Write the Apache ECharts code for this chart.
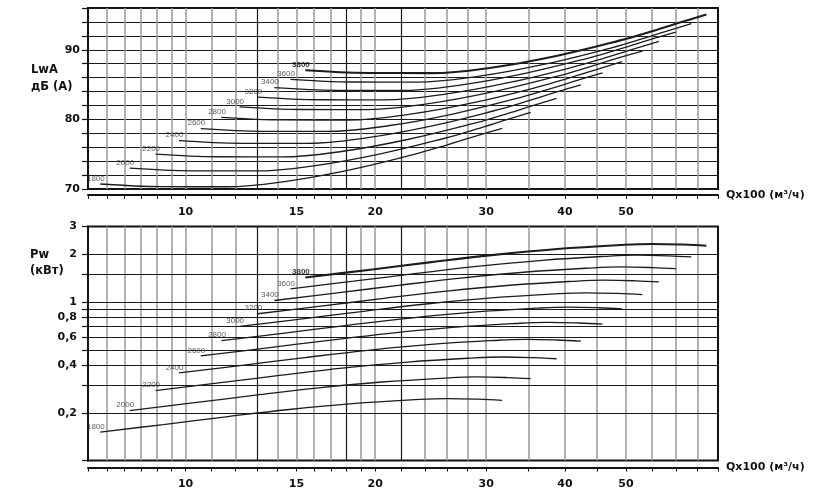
<!DOCTYPE html>
<html><head><meta charset="utf-8">
<script src="https://cdn.jsdelivr.net/npm/echarts@6/dist/echarts.min.js"></script>
<style>html,body{margin:0;padding:0;background:#fff}#c{width:816px;height:498px}</style>
</head><body><div id="c"></div>
<script>
// ---- data ----
const speeds = ['1800','2000','2200','2400','2600','2800','3000','3200','3400','3600','3800'];

const q1800 = [7.32, 9.22, 11.60, 14.61, 18.39, 23.15, 25.97, 29.14, 31.8];
const q2000 = [8.15, 10.26, 12.92, 16.26, 20.47, 25.77, 28.92, 32.45, 35.3];
const q2200 = [8.96, 11.28, 14.20, 17.88, 22.51, 28.33, 31.79, 35.67, 38.8];
const q2400 = [9.76, 12.29, 15.47, 19.47, 24.52, 30.86, 34.63, 38.85, 42.4];
const q2600 = [10.57, 13.31, 16.75, 21.09, 26.55, 33.43, 37.50, 42.08, 45.9];
const q2800 = [11.40, 14.35, 18.07, 22.75, 28.64, 36.05, 40.45, 45.38, 49.3];
const q3000 = [12.18, 15.33, 19.30, 24.30, 30.59, 38.52, 43.22, 48.49, 53.1];
const q3200 = [13.02, 16.39, 20.64, 25.98, 32.70, 41.17, 46.20, 51.83, 56.4];
const q3400 = [13.83, 17.41, 21.92, 27.59, 34.74, 43.73, 49.07, 55.06, 60.0];
const q3600 = [14.67, 18.47, 23.25, 29.27, 36.85, 46.39, 52.05, 58.40, 63.5];
const q3800 = [15.49, 19.50, 24.55, 30.91, 38.91, 48.98, 54.96, 61.67, 67.1];

const lwa1800 = [70.72, 70.34, 70.32, 71.17, 72.82, 75.02, 76.32, 77.72, 78.72];
const lwa2000 = [72.99, 72.61, 72.59, 73.44, 75.09, 77.29, 78.59, 79.99, 80.99];
const lwa2200 = [75.01, 74.63, 74.61, 75.46, 77.11, 79.31, 80.61, 82.01, 83.01];
const lwa2400 = [76.94, 76.56, 76.54, 77.39, 79.04, 81.24, 82.54, 83.94, 84.94];
const lwa2600 = [78.67, 78.29, 78.27, 79.12, 80.77, 82.97, 84.27, 85.67, 86.67];
const lwa2800 = [80.30, 79.92, 79.90, 80.75, 82.40, 84.60, 85.90, 87.30, 88.30];
const lwa3000 = [81.80, 81.42, 81.40, 82.25, 83.90, 86.10, 87.40, 88.80, 89.80];
const lwa3200 = [83.20, 82.82, 82.80, 83.65, 85.30, 87.50, 88.80, 90.20, 91.20];
const lwa3400 = [84.55, 84.17, 84.15, 85.00, 86.65, 88.85, 90.15, 91.55, 92.55];
const lwa3600 = [85.75, 85.37, 85.35, 86.20, 87.85, 90.05, 91.35, 92.75, 93.75];
const lwa3800 = [87.05, 86.67, 86.65, 87.50, 89.15, 91.35, 92.65, 94.05, 95.05];

const pw1800 = [0.151, 0.1687, 0.1888, 0.2099, 0.2286, 0.2421, 0.2460, 0.2438, 0.2399];
const pw2000 = [0.2067, 0.2309, 0.2584, 0.2873, 0.3129, 0.3314, 0.3368, 0.3337, 0.3283];
const pw2200 = [0.2763, 0.3086, 0.3455, 0.3841, 0.4182, 0.4430, 0.4502, 0.4461, 0.4389];
const pw2400 = [0.357, 0.3987, 0.4464, 0.4962, 0.5404, 0.5723, 0.5817, 0.5763, 0.5671];
const pw2600 = [0.457, 0.5104, 0.5714, 0.6352, 0.6917, 0.7327, 0.7446, 0.7378, 0.7259];
const pw2800 = [0.5705, 0.6372, 0.7133, 0.7930, 0.8635, 0.9146, 0.9295, 0.9210, 0.9062];
const pw3000 = [0.702, 0.7841, 0.8777, 0.9758, 1.0625, 1.1254, 1.1438, 1.1333, 1.1151];
const pw3200 = [0.844, 0.9427, 1.0553, 1.1732, 1.2775, 1.3531, 1.3751, 1.3626, 1.3407];
const pw3400 = [1.023, 1.1426, 1.2791, 1.4220, 1.5484, 1.6401, 1.6668, 1.6515, 1.6250];
const pw3600 = [1.213, 1.3548, 1.5166, 1.6861, 1.8360, 1.9447, 1.9763, 1.9583, 1.9269];
const pw3800 = [1.429, 1.5960, 1.7867, 1.9863, 2.1629, 2.2910, 2.3283, 2.3070, 2.2700];

// axis / grid values
const qGrid = [7.5, 8, 8.5, 9, 9.5, 10, 11, 12, 13, 14, 15, 16, 17, 18, 19, 20, 22, 24, 26, 28, 30, 35, 40, 45, 50, 55, 60, 65];
const qDark = [13, 18, 22];
const qTicks = [7, 7.5, 8, 8.5, 9, 9.5, 10, 11, 12, 13, 14, 15, 16, 17, 18, 19, 20, 22, 24, 26, 28, 30, 35, 40, 45, 50, 55, 60, 65, 70];
const qLabels = [10, 15, 20, 30, 40, 50];
const pwGrid = [0.2, 0.3, 0.4, 0.5, 0.6, 0.7, 0.8, 0.9, 1, 1.5, 2];
const pwTicks = [0.1, 0.2, 0.3, 0.4, 0.5, 0.6, 0.7, 0.8, 0.9, 1, 1.5, 2, 3];
const pwLabels = [0.2, 0.4, 0.6, 0.8, 1, 2, 3];
const lwaLabels = [70, 80, 90];

// ---- build ----
const Q = {1800:q1800,2000:q2000,2200:q2200,2400:q2400,2600:q2600,2800:q2800,3000:q3000,3200:q3200,3400:q3400,3600:q3600,3800:q3800};
const L = {1800:lwa1800,2000:lwa2000,2200:lwa2200,2400:lwa2400,2600:lwa2600,2800:lwa2800,3000:lwa3000,3200:lwa3200,3400:lwa3400,3600:lwa3600,3800:lwa3800};
const P = {1800:pw1800,2000:pw2000,2200:pw2200,2400:pw2400,2600:pw2600,2800:pw2800,3000:pw3000,3200:pw3200,3400:pw3400,3600:pw3600,3800:pw3800};

const boldFont = {fontFamily: 'DejaVu Sans', fontWeight: 'bold', fontSize: 11, color: '#111'};

const vLines = qGrid.map(q => ({xAxis: q, lineStyle: qDark.includes(q) ? {color: '#1a1a1a', width: 1.2} : {color: '#9a9a9a', width: 1.5}}));
const hLinesPw = pwGrid.map(v => ({yAxis: v, lineStyle: {color: '#1a1a1a', width: 1.2}}));

const series = [];
series.push({type: 'line', xAxisIndex: 0, yAxisIndex: 0, data: [], silent: true,
  markLine: {silent: true, symbol: 'none', z: 1, label: {show: false}, lineStyle: {type: 'solid'}, animation: false, data: vLines}});
series.push({type: 'line', xAxisIndex: 1, yAxisIndex: 1, data: [], silent: true,
  markLine: {silent: true, symbol: 'none', z: 1, label: {show: false}, lineStyle: {type: 'solid'}, animation: false, data: vLines.concat(hLinesPw)}});

speeds.forEach(s => {
  const w = s === '3800' ? 2.1 : 1.3;
  series.push({type: 'line', name: 'L' + s, xAxisIndex: 0, yAxisIndex: 0, z: 3, smooth: 0.4, symbol: 'none',
    lineStyle: {color: '#1c1c1c', width: w}, data: Q[s].map((q, j) => [q, L[s][j]])});
  series.push({type: 'line', name: 'P' + s, xAxisIndex: 1, yAxisIndex: 1, z: 3, smooth: 0.4, symbol: 'none',
    lineStyle: {color: '#1c1c1c', width: w}, data: Q[s].map((q, j) => [q, P[s][j]])});
});

const lblStyle = () => ({show: true, position: 'left', distance: 0, offset: [5, -5.5],
  formatter: (d) => d.value[2], fontFamily: 'Liberation Sans', fontSize: 8, color: '#333'});
series.push({type: 'scatter', xAxisIndex: 0, yAxisIndex: 0, z: 4, clip: false, symbolSize: 1, itemStyle: {color: 'rgba(0,0,0,0)'},
  label: lblStyle(), data: speeds.map(s => ({value: [Q[s][0], L[s][0], s],
    label: s === '3800' ? {fontWeight: 'bold', color: '#000'} : {}}))});
series.push({type: 'scatter', xAxisIndex: 1, yAxisIndex: 1, z: 4, clip: false, symbolSize: 1, itemStyle: {color: 'rgba(0,0,0,0)'},
  label: lblStyle(), data: speeds.map(s => ({value: [Q[s][0], P[s][0], s],
    label: s === '3800' ? {fontWeight: 'bold', color: '#000'} : {}}))});

const xAxisBase = (offset, margin, namePad) => ({
  type: 'log', logBase: 10, min: 7, max: 70, offset: offset,
  name: 'Qx100 (м³/ч)', nameLocation: 'end', nameGap: 8,
  nameTextStyle: Object.assign({}, boldFont, {verticalAlign: 'middle', padding: [namePad, 0, 0, 0]}),
  axisLine: {show: true, lineStyle: {color: '#111', width: 2}},
  axisTick: {show: true, length: 4, customValues: qTicks, lineStyle: {color: '#111', width: 1}},
  axisLabel: Object.assign({show: true, customValues: qLabels, margin: margin}, boldFont),
  splitLine: {show: false}, minorTick: {show: false}
});

const option = {
  animation: false,
  backgroundColor: '#fff',
  grid: [
    {left: 88, width: 630, top: 8, height: 181, show: true, borderColor: '#111', borderWidth: 2, backgroundColor: 'rgba(0,0,0,0)'},
    {left: 88, width: 630, top: 226.5, height: 234, show: true, borderColor: '#111', borderWidth: 2, backgroundColor: 'rgba(0,0,0,0)'}
  ],
  xAxis: [Object.assign({gridIndex: 0}, xAxisBase(6, 12, 7)), Object.assign({gridIndex: 1}, xAxisBase(7, 11, 8))],
  yAxis: [
    {gridIndex: 0, type: 'value', min: 70, max: 96, interval: 2,
      axisLine: {show: true, lineStyle: {color: '#111', width: 2}},
      axisTick: {show: true, length: 6, lineStyle: {color: '#111', width: 1.2}},
      axisLabel: Object.assign({margin: 8, formatter: v => lwaLabels.includes(v) ? String(v) : ''}, boldFont),
      splitLine: {show: true, lineStyle: {color: '#1a1a1a', width: 1.2}}},
    {gridIndex: 1, type: 'log', logBase: 10, min: 0.1, max: 3,
      axisLine: {show: true, lineStyle: {color: '#111', width: 2}},
      axisTick: {show: true, length: 6, customValues: pwTicks, lineStyle: {color: '#111', width: 1.2}},
      axisLabel: Object.assign({margin: 11, customValues: pwLabels, formatter: v => String(v).replace('.', ',')}, boldFont),
      splitLine: {show: false}, minorTick: {show: false}}
  ],
  graphic: [
    {type: 'text', left: 31, top: 64, style: {text: 'LwA', font: 'bold 11.5px "DejaVu Sans"', fill: '#111'}},
    {type: 'text', left: 31, top: 81, style: {text: 'дБ (А)', font: 'bold 11.5px "DejaVu Sans"', fill: '#111'}},
    {type: 'text', left: 30, top: 249, style: {text: 'Pw', font: 'bold 11.5px "DejaVu Sans"', fill: '#111'}},
    {type: 'text', left: 30, top: 265, style: {text: '(кВт)', font: 'bold 11.5px "DejaVu Sans"', fill: '#111'}}
  ],
  series: series
};

const chart = echarts.init(document.getElementById('c'), null, {renderer: 'canvas'});
chart.setOption(option);
</script>
</body></html>
